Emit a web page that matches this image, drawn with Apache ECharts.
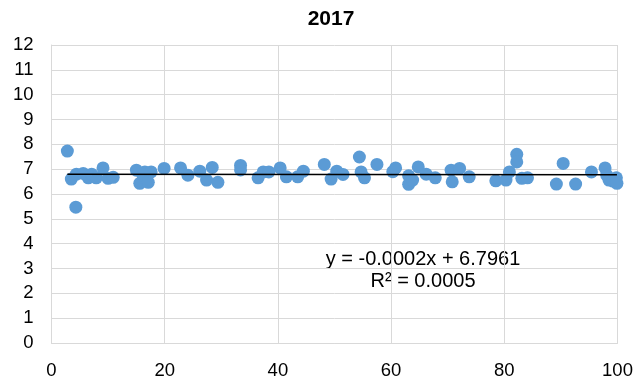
<!DOCTYPE html>
<html>
<head>
<meta charset="utf-8">
<script src="https://cdn.jsdelivr.net/npm/echarts@6/dist/echarts.min.js"></script>
<style>
  html, body { margin: 0; padding: 0; background: #fff; }
  #chart { width: 641px; height: 380px; }
</style>
</head>
<body>
<div id="chart"></div>
<script>
// Observations for 2017
const xValues = [2.8, 3.5, 4.3, 4.4, 5.6, 6.5, 7.1, 7.9, 9.1, 10.0, 10.9, 15.0, 15.6, 16.2, 16.5, 17.1, 17.6, 19.9,
  22.8, 24.1, 26.2, 27.4, 28.4, 29.4, 33.4, 33.4, 36.5, 37.4, 38.4, 40.4, 41.5, 43.5, 44.5, 48.2, 49.4, 50.4,
  51.5, 54.4, 54.7, 55.3, 57.5, 60.3, 60.8, 63.1, 63.1, 63.8, 64.8, 66.2, 67.8, 70.6, 70.8, 72.1, 73.8, 78.5,
  80.3, 80.9, 82.2, 82.2, 83.1, 84.1, 89.2, 90.4, 92.6, 95.4, 97.8, 98.1, 98.5, 99.2, 99.8, 99.9];
const yValues = [7.73, 6.6, 5.47, 6.8, 6.83, 6.65, 6.8, 6.65, 7.05, 6.63, 6.67, 6.96, 6.43, 6.76, 6.89, 6.47, 6.89, 7.03,
  7.05, 6.76, 6.92, 6.56, 7.07, 6.47, 7.15, 6.97, 6.65, 6.89, 6.89, 7.05, 6.69, 6.69, 6.92, 7.19, 6.6, 6.92,
  6.79, 7.49, 6.89, 6.65, 7.19, 6.9, 7.05, 6.73, 6.39, 6.56, 7.09, 6.8, 6.65, 6.96, 6.49, 7.03, 6.69, 6.53,
  6.56, 6.89, 7.6, 7.29, 6.63, 6.65, 6.4, 7.23, 6.4, 6.89, 7.05, 6.76, 6.56, 6.52, 6.65, 6.43];

// Linear trend line coefficients
const trendSlope = -0.0002;
const trendIntercept = 6.7961;
const rSquared = 0.0005;

const chartTitle = '2017';

const points = xValues.map((x, i) => [x, yValues[i]]);
const xMin = Math.min(...xValues);
const xMax = Math.max(...xValues);
const trendPoints = [xMin, xMax].map(x => [x, trendSlope * x + trendIntercept]);

const FONT = '"Liberation Sans", Arial, sans-serif';
const chart = echarts.init(document.getElementById('chart'));

chart.setOption({
  animation: false,
  backgroundColor: '#ffffff',
  grid: { left: 51.5, right: 23.5, top: 45, bottom: 34 },
  xAxis: {
    type: 'value',
    min: 0, max: 100, interval: 20,
    axisLine: { show: true, lineStyle: { color: '#d9d9d9', width: 1 } },
    axisTick: { show: false },
    splitLine: { show: true, lineStyle: { color: '#d9d9d9', width: 1 } },
    axisLabel: { fontFamily: FONT, fontSize: 18.5, color: '#000', margin: 18 }
  },
  yAxis: {
    type: 'value',
    min: 0, max: 12, interval: 1,
    axisLine: { show: true, lineStyle: { color: '#d9d9d9', width: 1 } },
    axisTick: { show: false },
    splitLine: { show: true, lineStyle: { color: '#d9d9d9', width: 1 } },
    axisLabel: { fontFamily: FONT, fontSize: 18.5, color: '#000', margin: 18 }
  },
  series: [
    {
      type: 'scatter',
      data: points,
      symbolSize: 13,
      itemStyle: { color: '#5b9bd5', opacity: 1 },
      z: 2
    },
    {
      type: 'line',
      data: trendPoints,
      symbol: 'none',
      lineStyle: { color: '#000', width: 1.5 },
      z: 3
    }
  ],
  graphic: [
    {
      type: 'text',
      style: {
        text: chartTitle,
        x: 331, y: 19.5,
        textAlign: 'center', textVerticalAlign: 'middle',
        font: 'bold 21px ' + FONT, fill: '#000'
      }
    },
    {
      type: 'text',
      style: {
        text: 'y = ' + trendSlope.toFixed(4) + 'x + ' + trendIntercept.toFixed(4),
        x: 423, y: 259,
        textAlign: 'center', textVerticalAlign: 'middle',
        font: '20px ' + FONT, fill: '#000'
      }
    },
    {
      type: 'text',
      style: {
        text: 'R² = ' + rSquared.toFixed(4),
        x: 423, y: 281.5,
        textAlign: 'center', textVerticalAlign: 'middle',
        font: '20px ' + FONT, fill: '#000'
      }
    }
  ]
});
</script>
</body>
</html>
